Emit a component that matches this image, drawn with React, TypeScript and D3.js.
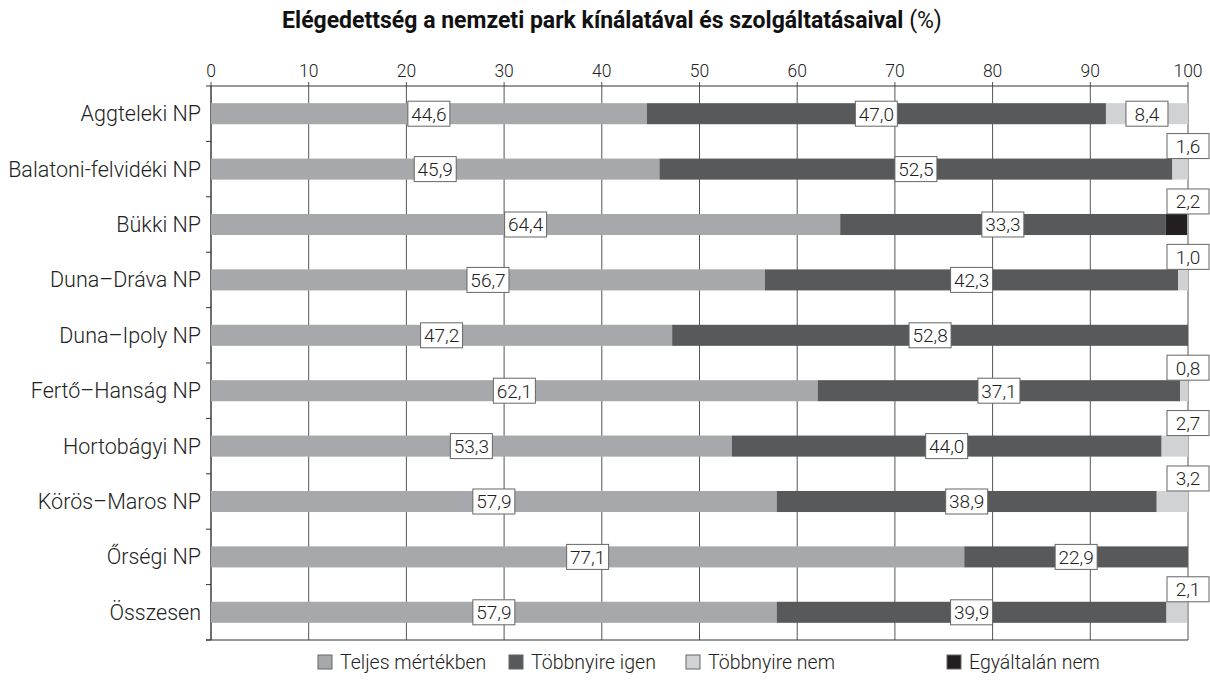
import React from 'react';
import * as d3 from 'd3';

const categories = [
  'Aggteleki NP',
  'Balatoni-felvidéki NP',
  'Bükki NP',
  'Duna–Dráva NP',
  'Duna–Ipoly NP',
  'Fertő–Hanság NP',
  'Hortobágyi NP',
  'Körös–Maros NP',
  'Őrségi NP',
  'Összesen',
];

const seriesNames = ['Teljes mértékben', 'Többnyire igen', 'Többnyire nem', 'Egyáltalán nem'];
const seriesColors = ['#a7a8ab', '#58595b', '#d1d2d4', '#231f20'];

const teljes = [44.6, 45.9, 64.4, 56.7, 47.2, 62.1, 53.3, 57.9, 77.1, 57.9];
const tobbnyireIgen = [47.0, 52.5, 33.3, 42.3, 52.8, 37.1, 44.0, 38.9, 22.9, 39.9];
const tobbnyireNem = [8.4, 1.6, 0, 1.0, 0, 0.8, 2.7, 3.2, 0, 2.1];
const egyaltalan = [0, 0, 2.2, 0, 0, 0, 0, 0, 0, 0];

const xTicks = [0, 10, 20, 30, 40, 50, 60, 70, 80, 90, 100];

const width = 1210;
const height = 686;
const font = 'Roboto, "Open Sans", sans-serif';

export default function App() {
  const series = [teljes, tobbnyireIgen, tobbnyireNem, egyaltalan];

  const x = d3.scaleLinear().domain([0, 100]).range([211, 1188]);
  const y = d3.scaleBand<string>().domain(categories).range([86, 640]).paddingInner(0.62).paddingOuter(0.31);
  const step = y.step();

  const fmt = (v: number) => v.toFixed(1).replace('.', ',');

  // stacked segments, one per non-zero value
  const segments: { cat: string; s: number; x0: number; x1: number; v: number }[] = [];
  categories.forEach((cat, i) => {
    let acc = 0;
    series.forEach((arr, s) => {
      const v = arr[i];
      if (v > 0) segments.push({ cat, s, x0: acc, x1: acc + v, v });
      acc += v;
    });
  });

  const boxW = 42;
  const boxH = 25;

  const legendX = [318, 509, 686, 947];

  return (
    <svg width={width} height={height} style={{ position: 'absolute', left: 0, top: 0, background: '#fff' }}>
      <text x={612} y={28} textAnchor="middle" fontFamily={font} fontWeight={700} fontSize={23} fill="#111">
        Elégedettség a nemzeti park kínálatával és szolgáltatásaival <tspan fontWeight={400}>(%)</tspan>
      </text>

      {/* gridlines */}
      {xTicks.map((t) => (
        <line key={'g' + t} x1={x(t)} x2={x(t)} y1={82} y2={640} stroke="#555" strokeWidth={1} />
      ))}
      {xTicks.map((t) => (
        <text key={'t' + t} x={x(t)} y={77} textAnchor="middle" fontFamily={font} fontWeight={300} fontSize={17.5} fill="#222">
          {t}
        </text>
      ))}
      <line x1={206} x2={x(100)} y1={86} y2={86} stroke="#333" />
      <line x1={206} x2={x(100)} y1={640} y2={640} stroke="#333" />
      <line x1={x(0)} x2={x(0)} y1={86} y2={640} stroke="#333" />
      {categories.map((c, i) => (
        <line key={'lt' + c} x1={206} x2={x(0)} y1={86 + step * (i + 1)} y2={86 + step * (i + 1)} stroke="#333" />
      ))}

      {categories.map((c) => (
        <text
          key={'c' + c}
          x={201}
          y={(y(c) ?? 0) + y.bandwidth() / 2}
          dy="0.35em"
          textAnchor="end"
          fontFamily={font}
          fontWeight={300}
          fontSize={21.5}
          fill="#222"
        >
          {c}
        </text>
      ))}

      {segments.map((d, i) => (
        <rect
          key={'r' + i}
          x={x(d.x0)}
          y={y(d.cat)}
          width={x(d.x1) - x(d.x0)}
          height={y.bandwidth()}
          fill={seriesColors[d.s]}
        />
      ))}

      {segments.map((d, i) => {
        const small = d.v < 4;
        const cx = small ? x(100) : x((d.x0 + d.x1) / 2);
        const by = y(d.cat) ?? 0;
        const cy = small ? by - boxH / 2 : by + y.bandwidth() / 2;
        return (
          <g key={'l' + i}>
            <rect x={cx - boxW / 2} y={cy - boxH / 2} width={boxW} height={boxH} fill="#fff" stroke="#666" strokeWidth={1} />
            <text x={cx} y={cy} dy="0.36em" textAnchor="middle" fontFamily={font} fontWeight={300} fontSize={19} fill="#222">
              {fmt(d.v)}
            </text>
          </g>
        );
      })}

      {seriesNames.map((n, i) => (
        <g key={'lg' + n}>
          <rect x={legendX[i]} y={655} width={14} height={14} fill={seriesColors[i]} stroke="#666" strokeWidth={1} />
          <text x={legendX[i] + 22} y={662} dy="0.36em" fontFamily={font} fontWeight={300} fontSize={19.5} fill="#222">
            {n}
          </text>
        </g>
      ))}
    </svg>
  );
}
